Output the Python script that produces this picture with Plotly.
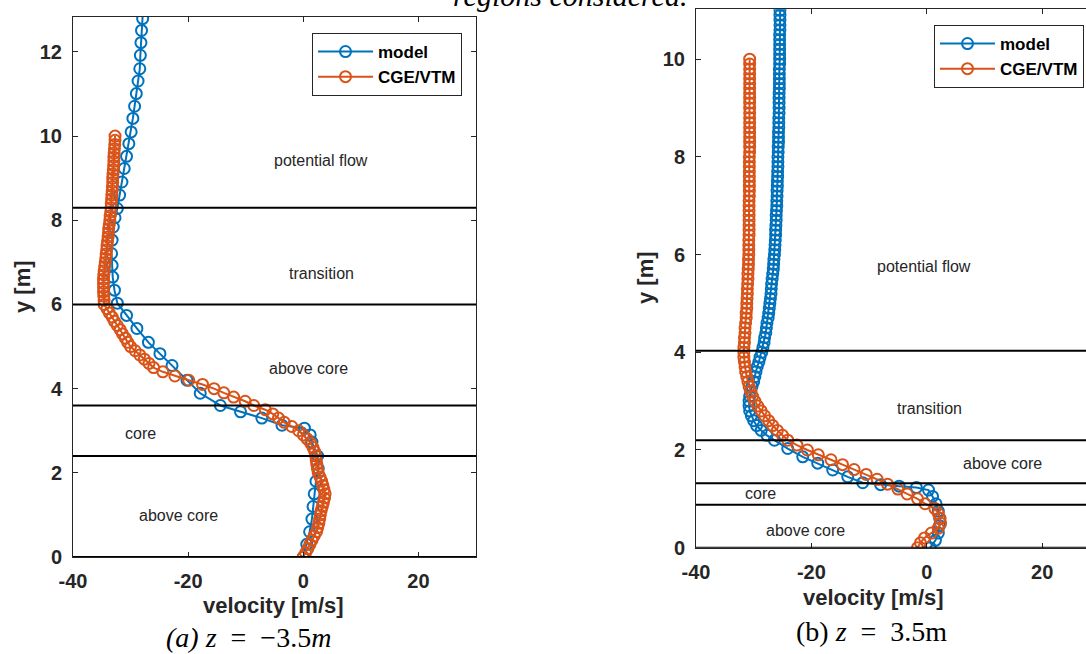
import plotly.graph_objects as go

BLUE = "#0072BD"
ORANGE = "#D95319"
AXC = "#262626"

# ---------------- panel (a): z = -3.5 m ----------------
a_model_y = [0.0, 0.3, 0.6, 0.9, 1.2, 1.5, 1.8, 2.1, 2.4, 2.73, 2.9, 3.06, 3.13, 3.3, 3.45, 3.6,
             3.89, 4.2, 4.55, 4.83, 5.1, 5.43, 5.74, 6.03, 6.34, 6.65, 6.93, 7.21, 7.53, 7.84,
             8.06, 8.28, 8.6, 8.91, 9.23, 9.52, 9.82, 10.1, 10.42, 10.71, 11.01, 11.31, 11.6,
             11.92, 12.22, 12.51, 12.79, 13.1]
a_model_v = [0.0, 0.6, 1.1, 1.5, 1.7, 1.9, 2.2, 2.6, 2.5, 1.5, 1.2, 0.2, -3.7, -7.2, -10.9, -14.4,
             -17.9, -20.2, -22.8, -24.9, -26.9, -28.9, -30.7, -32.3, -32.8, -33.1, -33.2, -33.3, -33.2, -33.0,
             -32.7, -32.3, -31.9, -31.5, -31.1, -30.7, -30.3, -29.9, -29.6, -29.3, -29.0, -28.7, -28.4,
             -28.3, -28.2, -28.1, -27.9, -27.8]

a_cge_y = [0.0, 0.1, 0.2, 0.3, 0.4, 0.5, 0.6, 0.7, 0.8, 0.9,
           1.0, 1.1, 1.2, 1.3, 1.4, 1.5, 1.6, 1.7, 1.8, 1.9,
           2.0, 2.1, 2.2, 2.3, 2.4, 2.5, 2.6, 2.7, 2.8, 2.9,
           3.0, 3.1, 3.2, 3.3, 3.4, 3.5, 3.6, 3.7, 3.8, 3.9,
           4.0, 4.1, 4.2, 4.3, 4.4, 4.5, 4.6, 4.7, 4.8, 4.9,
           5.0, 5.1, 5.2, 5.3, 5.4, 5.5, 5.6, 5.7, 5.8, 5.9,
           6.0, 6.1, 6.2, 6.3, 6.4, 6.5, 6.6, 6.7, 6.8, 6.9,
           7.0, 7.1, 7.2, 7.3, 7.4, 7.5, 7.6, 7.7, 7.8, 7.9,
           8.0, 8.1, 8.2, 8.3, 8.4, 8.5, 8.6, 8.7, 8.8, 8.9,
           9.0, 9.1, 9.2, 9.3, 9.4, 9.5, 9.6, 9.7, 9.8, 9.9, 10.0]
a_cge_v = [0.0, 0.4, 0.8, 1.15, 1.5, 1.9, 2.3, 2.5, 2.7, 2.85,
           2.95, 3.1, 3.3, 3.5, 3.7, 3.8, 3.6, 3.4, 3.2, 2.9,
           2.6, 2.45, 2.35, 2.25, 2.15, 2.0, 1.7, 1.3, 0.7, 0.0,
           -0.8, -2.0, -3.3, -4.3, -5.3, -6.6, -8.6, -10.1, -12.1, -13.8,
           -15.5, -17.5, -19.9, -22.3, -24.4, -26.0, -26.8, -27.6, -28.4, -29.2,
           -30.0, -30.5, -30.9, -31.4, -31.8, -32.3, -32.8, -33.2, -33.7, -34.1,
           -34.6, -34.6, -34.65, -34.7, -34.7, -34.7, -34.7, -34.65, -34.6, -34.5,
           -34.4, -34.3, -34.25, -34.15, -34.1, -34.0, -33.9, -33.85, -33.8, -33.7,
           -33.6, -33.55, -33.45, -33.4, -33.35, -33.3, -33.25, -33.2, -33.15, -33.1,
           -33.1, -33.05, -33.0, -32.95, -32.9, -32.9, -32.85, -32.8, -32.75, -32.7, -32.7]

a_bounds = [8.3, 6.0, 3.6, 2.4, 0.0]
a_label_text = ["potential flow", "transition", "above core", "core", "above core"]
a_label_v = [3.0, 3.2, 0.9, -28.3, -21.6]
a_label_y = [9.43, 6.73, 4.48, 2.93, 0.99]

# ---------------- panel (b): z = 3.5 m ----------------
b_model_y = [0.0, 0.15, 0.3, 0.45, 0.6, 0.75, 0.9, 1.05, 1.18, 1.23, 1.26, 1.29, 1.33, 1.45, 1.59,
             1.73, 1.86, 2.03, 2.2, 2.3,
             2.4, 2.5, 2.6, 2.7, 2.8, 2.9, 3.0, 3.1, 3.2, 3.3, 3.4, 3.5, 3.6, 3.7, 3.8, 3.9,
             4.0, 4.1, 4.2, 4.3, 4.4, 4.5, 4.6, 4.7, 4.8, 4.9, 5.0, 5.1, 5.2, 5.3, 5.4, 5.5,
             5.6, 5.7, 5.8, 5.9, 6.0, 6.1, 6.2, 6.3, 6.4, 6.5, 6.6, 6.7, 6.8, 6.9, 7.0, 7.1,
             7.2, 7.3, 7.4, 7.5, 7.6, 7.7, 7.8, 7.9, 8.0, 8.1, 8.2, 8.3, 8.4, 8.5, 8.6, 8.7,
             8.8, 8.9, 9.0, 9.1, 9.2, 9.3, 9.4, 9.5, 9.6, 9.7, 9.8, 9.9, 10.0, 10.1, 10.2,
             10.3, 10.4, 10.5, 10.6, 10.7, 10.8, 10.9, 11.0, 11.1, 11.2]
b_model_v = [0.6, 1.5, 2.0, 2.2, 2.25, 2.0, 1.6, 1.0, 0.3, -1.8, -4.8, -8.0, -11.1, -13.7, -16.3,
             -18.9, -21.5, -24.1, -26.4, -27.7,
             -28.7, -29.5, -30.0, -30.4, -30.7, -30.8, -30.8, -30.7, -30.5, -30.3, -30.0, -29.8, -29.6, -29.4, -29.1, -28.9,
             -28.6, -28.4, -28.2, -28.1, -27.9, -27.8, -27.7, -27.5, -27.4, -27.3, -27.2, -27.1, -27.0, -26.95, -26.9, -26.8,
             -26.7, -26.6, -26.55, -26.5, -26.4, -26.35, -26.3, -26.25, -26.2, -26.2, -26.15, -26.1, -26.1, -26.05, -26.0, -26.0,
             -25.95, -25.95, -25.9, -25.9, -25.85, -25.85, -25.8, -25.8, -25.8, -25.75, -25.75, -25.7, -25.7, -25.7, -25.65, -25.65,
             -25.65, -25.6, -25.6, -25.6, -25.6, -25.6, -25.55, -25.55, -25.55, -25.55, -25.55, -25.5, -25.5, -25.5, -25.5,
             -25.5, -25.5, -25.5, -25.45, -25.45, -25.45, -25.45, -25.45, -25.4, -25.4]

b_cge_y = list(a_cge_y)
b_cge_v = [-1.6, -1.1, -0.4, 0.8, 2.0, 2.4, 2.3, 2.0, 1.4, -0.3,
           -1.6, -3.4, -5.0, -6.8, -8.6, -10.5, -12.6, -14.6, -16.6, -18.8,
           -20.7, -22.5, -24.1, -25.0, -25.9, -26.7, -27.4, -28.1, -28.7, -29.3,
           -29.8, -30.2, -30.5, -30.8, -31.0, -31.2, -31.4, -31.5, -31.6, -31.7,
           -31.7, -31.7, -31.6, -31.6, -31.5, -31.5, -31.4, -31.3, -31.3, -31.2,
           -31.2, -31.15, -31.1, -31.1, -31.05, -31.0, -31.0, -30.95, -30.9, -30.9,
           -30.85, -30.85, -30.85, -30.85, -30.8, -30.8, -30.8, -30.8, -30.8, -30.8,
           -30.8, -30.8, -30.75, -30.75, -30.75, -30.75, -30.75, -30.75, -30.75, -30.75,
           -30.75, -30.7, -30.7, -30.7, -30.7, -30.7, -30.7, -30.7, -30.7, -30.7,
           -30.7, -30.7, -30.7, -30.7, -30.7, -30.7, -30.7, -30.7, -30.7, -30.7, -30.7]

b_bounds = [4.03, 2.2, 1.32, 0.88, 0.0]
b_label_text = ["potential flow", "transition", "above core", "core", "above core"]
b_label_v = [-0.45, 0.4, 13.1, -28.8, -21.1]
b_label_y = [5.75, 2.85, 1.73, 1.11, 0.36]

x_tickvals = [-40, -20, 0, 20]
x_ticktext = ["-40", "-20", "0", "20"]
a_ytick = [0, 2, 4, 6, 8, 10, 12]
b_ytick = [0, 2, 4, 6, 8, 10]

W, H = 1086, 654
def px(x):
    return x / W
def py(y):
    return (H - y) / H

fig = go.Figure()

def add_series(xa, ya, y, v, name, color, legend):
    fig.add_trace(go.Scatter(
        x=v, y=y, name=name, mode="lines+markers", xaxis=xa, yaxis=ya, legend=legend,
        line=dict(color=color, width=2),
        marker=dict(symbol="circle-open", size=11, color=color, line=dict(width=2, color=color)),
    ))

add_series("x", "y", a_model_y, a_model_v, "model", BLUE, "legend")
add_series("x", "y", a_cge_y, a_cge_v, "CGE/VTM", ORANGE, "legend")
add_series("x2", "y2", b_model_y, b_model_v, "model", BLUE, "legend2")
add_series("x2", "y2", b_cge_y, b_cge_v, "CGE/VTM", ORANGE, "legend2")

shapes = []
for b in a_bounds:
    shapes.append(dict(type="line", xref="x domain", yref="y", x0=0, x1=1, y0=b, y1=b,
                       line=dict(color="black", width=2)))
for b in b_bounds:
    shapes.append(dict(type="line", xref="x2 domain", yref="y2", x0=0, x1=1, y0=b, y1=b,
                       line=dict(color="black", width=2)))

annotations = []
lab_font = dict(family="Liberation Sans, Arial", size=16, color=AXC)
for t, v, y in zip(a_label_text, a_label_v, a_label_y):
    annotations.append(dict(text=t, x=v, y=y, xref="x", yref="y", showarrow=False, font=lab_font,
                            xanchor="center", yanchor="middle"))
for t, v, y in zip(b_label_text, b_label_v, b_label_y):
    annotations.append(dict(text=t, x=v, y=y, xref="x2", yref="y2", showarrow=False, font=lab_font,
                            xanchor="center", yanchor="middle"))

def paper_note(text, x, y, font, **kw):
    d = dict(text=text, x=px(x), y=py(y), xref="paper", yref="paper", showarrow=False,
             xanchor="center", yanchor="middle", font=font)
    d.update(kw)
    return d

title_font = dict(family="Liberation Sans, Arial", size=22, color=AXC, weight="bold")
cap_font = dict(family="Liberation Serif, Times New Roman", size=28, color="black")
top_font = dict(family="Liberation Serif, Times New Roman", size=30, color="black")
annotations += [
    paper_note("velocity [m/s]", 273, 605, title_font),
    paper_note("velocity [m/s]", 873, 597, title_font),
    paper_note("y [m]", 22, 287, title_font, textangle=-90),
    paper_note("y [m]", 645, 278, title_font, textangle=-90),
    paper_note("<i>(a) z</i>\u00a0 = \u00a0−3.5<i>m</i>", 248, 637, cap_font),
    paper_note("(b) <i>z</i>\u00a0 = \u00a03.5m", 871, 631, cap_font),
    paper_note("<i>regions considered.</i>", 570, -4, top_font),
]

tick_font = dict(family="Liberation Sans, Arial", size=20, color=AXC, weight="bold")
common = dict(showline=True, linecolor=AXC, linewidth=1, ticks="inside", ticklen=5, tickcolor=AXC,
              showgrid=False, zeroline=False, tickfont=tick_font, automargin=False)

leg_font = dict(family="Liberation Sans, Arial", size=17, color="black", weight="bold")

fig.update_layout(
    width=W, height=H, margin=dict(l=0, r=0, t=0, b=0, autoexpand=False),
    paper_bgcolor="white", plot_bgcolor="white",
    xaxis=dict(domain=[px(73), px(476)], range=[-40, 30], anchor="y", mirror="ticks",
               tickvals=x_tickvals, ticktext=x_ticktext, ticklabelstandoff=6, **common),
    yaxis=dict(domain=[py(557), py(17)], range=[0, 12.83], anchor="x", mirror="ticks",
               tickvals=a_ytick, ticklabelstandoff=6, **common),
    xaxis2=dict(domain=[px(696), 1.0], range=[-40, 27.6], anchor="y2", mirror="ticks",
                tickvals=x_tickvals, ticktext=x_ticktext, ticklabelstandoff=6, **common),
    yaxis2=dict(domain=[py(547.7), py(9.3)], range=[0, 11.02], anchor="x2", mirror=False,
                tickvals=b_ytick, ticklabelstandoff=6, **common),
    legend=dict(x=px(462), y=py(33), xanchor="right", yanchor="top", bgcolor="white",
                bordercolor=AXC, borderwidth=1, font=leg_font, tracegroupgap=0, itemwidth=55),
    legend2=dict(x=px(1084), y=py(25), xanchor="right", yanchor="top", bgcolor="white",
                 bordercolor=AXC, borderwidth=1, font=leg_font, tracegroupgap=0, itemwidth=55),
    shapes=shapes, annotations=annotations, showlegend=True,
)

fig.write_html("out.html", config={"displayModeBar": False},
               post_script="document.body.style.margin='0px';document.body.style.overflow='hidden';")
